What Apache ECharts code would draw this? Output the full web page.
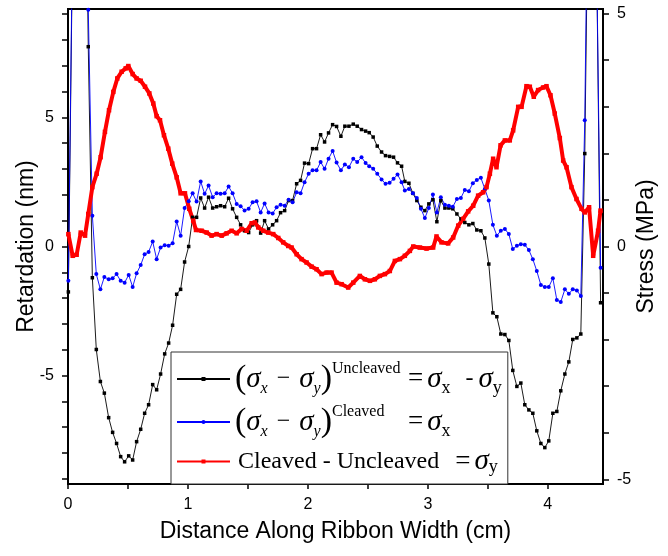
<!DOCTYPE html>
<html>
<head>
<meta charset="utf-8">
<script src="https://cdn.jsdelivr.net/npm/echarts@6/dist/echarts.min.js"></script>
<style>
  html, body { margin: 0; padding: 0; background: #fff; }
  #main { width: 668px; height: 556px; }
</style>
</head>
<body>
<div id="main"></div>
<script>
// x positions (cm) shared by the uncleaved and cleaved scans
var distance = [
    0.003, 0.036, 0.070, 0.103, 0.136, 0.169, 0.203, 0.236, 0.270, 0.303,
    0.339, 0.372, 0.405, 0.439, 0.472, 0.506, 0.539, 0.572, 0.606, 0.639,
    0.672, 0.706, 0.739, 0.772, 0.806, 0.839, 0.872, 0.906, 0.939, 0.972,
    1.006, 1.039, 1.072, 1.106, 1.139, 1.172, 1.206, 1.239, 1.272, 1.306,
    1.339, 1.372, 1.406, 1.439, 1.472, 1.506, 1.539, 1.572, 1.606, 1.639,
    1.672, 1.706, 1.739, 1.772, 1.806, 1.839, 1.872, 1.906, 1.939, 1.972,
    2.006, 2.039, 2.072, 2.106, 2.139, 2.172, 2.206, 2.239, 2.275, 2.308,
    2.342, 2.378, 2.411, 2.447, 2.481, 2.511, 2.544, 2.578, 2.614, 2.647,
    2.681, 2.714, 2.747, 2.781, 2.808, 2.842, 2.875, 2.908, 2.942, 2.975,
    3.008, 3.042, 3.075, 3.108, 3.142, 3.175, 3.208, 3.242, 3.275, 3.308,
    3.342, 3.375, 3.408, 3.442, 3.475, 3.508, 3.542, 3.575, 3.608, 3.642,
    3.675, 3.708, 3.742, 3.775, 3.808, 3.842, 3.875, 3.908, 3.942, 3.975,
    4.008, 4.042, 4.075, 4.108, 4.142, 4.175, 4.208, 4.242, 4.275, 4.308,
    4.342, 4.375, 4.405, 4.440
];

// retardation (nm), uncleaved ribbon
var uncleaved = [
    -1.76, 11, 18, 22, 20, 7.74, -1.21, -3.99, -5.23, -5.68,
    -6.63, -7.20, -7.63, -8.14, -8.34, -8.11, -8.27, -7.56, -7.08, -6.46,
    -6.13, -5.35, -5.55, -4.94, -4.16, -3.74, -3.05, -1.85, -1.66, -0.60,
    0.00, 1.13, 1.13, 1.88, 1.49, 1.91, 1.49, 1.54, 1.58, 1.54,
    1.87, 1.46, 1.13, 0.84, 0.61, 0.54, 0.84, 1.00, 0.52, 1.00,
    0.68, 0.84, 1.00, 1.31, 1.39, 1.78, 1.78, 2.43, 2.56, 3.23,
    3.21, 3.79, 3.79, 4.33, 4.05, 4.40, 4.72, 4.65, 4.27, 4.66,
    4.66, 4.74, 4.66, 4.53, 4.47, 4.41, 4.24, 3.89, 3.66, 3.52,
    3.49, 3.46, 3.24, 3.11, 2.52, 2.45, 2.06, 1.78, 1.52, 1.39,
    1.65, 1.81, 0.96, 1.78, 1.49, 1.49, 1.46, 1.26, 1.07, 0.93,
    0.84, 0.89, 0.64, 0.61, 0.33, -0.68, -2.57, -2.72, -3.39, -3.41,
    -3.64, -4.80, -5.42, -5.29, -6.13, -6.33, -6.46, -7.14, -7.63, -7.79,
    -7.53, -6.46, -6.39, -5.59, -4.94, -4.47, -3.60, -3.54, -3.39, 3.60,
    16, 22, 12, -2.18
];

// retardation (nm), cleaved ribbon
var cleaved = [
    -1.33, 11.5, 18, 22, 22, 9.17, 1.19, -1.07, -1.66, -1.18,
    -1.27, -1.23, -1.07, -1.33, -1.40, -1.10, -1.57, -1.04, -0.72, -0.30,
    -0.21, 0.19, -0.49, -0.04, 0.05, 0.03, 0.13, 0.97, 0.42, 1.49,
    1.75, 2.06, 1.74, 2.52, 2.04, 2.36, 1.91, 2.06, 2.04, 2.06,
    2.32, 2.06, 1.65, 1.56, 1.39, 1.46, 1.71, 1.75, 1.32, 1.67,
    1.32, 1.28, 1.52, 1.62, 1.58, 1.81, 1.71, 2.10, 2.06, 2.49,
    2.82, 2.95, 2.95, 3.27, 3.01, 3.40, 3.70, 3.25, 2.95, 3.18,
    3.07, 3.40, 3.27, 3.46, 3.23, 3.11, 3.01, 2.82, 2.60, 2.43,
    2.47, 2.62, 2.79, 2.49, 2.17, 2.23, 2.06, 1.88, 1.46, 1.10,
    1.49, 2.01, 1.32, 1.91, 1.62, 1.58, 1.54, 1.84, 1.88, 2.19,
    2.14, 2.45, 2.58, 2.66, 2.23, 1.78, 0.84, 0.42, 0.61, 0.68,
    0.48, -0.10, 0.03, 0.09, 0.07, -0.14, -0.49, -0.95, -1.49, -1.57,
    -1.57, -1.23, -2.07, -2.15, -1.66, -1.83, -1.66, -1.70, -1.92, 4.89,
    18, 22, 12, -0.82
];

// cleaved - uncleaved, read against the left scale
var diffDistance = [
    0.003, 0.039, 0.072, 0.106, 0.142, 0.169, 0.203, 0.239, 0.272, 0.308,
    0.342, 0.378, 0.411, 0.447, 0.481, 0.503, 0.539, 0.572, 0.606, 0.642,
    0.678, 0.711, 0.739, 0.767, 0.800, 0.836, 0.869, 0.906, 0.939, 0.975,
    1.011, 1.044, 1.067, 1.114, 1.156, 1.197, 1.239, 1.281, 1.322, 1.364,
    1.406, 1.447, 1.489, 1.531, 1.558, 1.586, 1.628, 1.669, 1.711, 1.753,
    1.794, 1.836, 1.864, 1.906, 1.947, 1.989, 2.031, 2.072, 2.114, 2.156,
    2.197, 2.239, 2.281, 2.336, 2.378, 2.433, 2.475, 2.517, 2.558, 2.600,
    2.642, 2.683, 2.725, 2.767, 2.808, 2.850, 2.878, 2.933, 2.989, 3.044,
    3.072, 3.114, 3.169, 3.211, 3.253, 3.294, 3.336, 3.378, 3.419, 3.461,
    3.489, 3.517, 3.544, 3.572, 3.606, 3.642, 3.683, 3.711, 3.753, 3.781,
    3.822, 3.850, 3.883, 3.919, 3.961, 3.989, 4.022, 4.058, 4.100, 4.128,
    4.156, 4.197, 4.239, 4.281, 4.308, 4.344, 4.378, 4.419, 4.439
];
var difference = [
    0.48, -0.36, -0.32, 0.54, 0.42, 1.26, 2.30, 2.82, 3.46, 4.44,
    5.28, 5.99, 6.51, 6.77, 6.90, 6.99, 6.68, 6.51, 6.42, 6.19,
    5.93, 5.54, 5.05, 4.89, 4.31, 3.79, 3.21, 2.68, 2.06, 2.06,
    1.46, 1.00, 0.64, 0.61, 0.54, 0.42, 0.48, 0.42, 0.51, 0.61,
    0.51, 0.68, 0.61, 0.90, 0.93, 0.74, 0.61, 0.54, 0.48, 0.33,
    0.16, 0.02, -0.04, -0.30, -0.49, -0.62, -0.78, -0.88, -1.07, -1.01,
    -1.01, -1.40, -1.46, -1.59, -1.40, -1.14, -1.27, -1.33, -1.27, -1.14,
    -1.07, -0.95, -0.56, -0.49, -0.36, -0.17, 0.00, -0.04, -0.08, -0.04,
    0.39, 0.16, 0.12, 0.35, 0.81, 1.07, 1.36, 1.58, 1.97, 2.10,
    2.30, 2.82, 3.40, 3.07, 3.92, 4.11, 4.11, 4.50, 5.41, 5.41,
    6.21, 6.19, 5.80, 6.06, 6.16, 6.21, 5.86, 5.15, 4.20, 3.33,
    3.07, 2.30, 1.84, 1.46, 1.32, 1.52, -0.36, 0.61, 1.39
];

// ticks and labels
var xTicks = [0, 0.5, 1, 1.5, 2, 2.5, 3, 3.5, 4];
var xLabels = [0, 1, 2, 3, 4];
var leftTicks = [-9, -8, -7, -6, -5, -4, -3, -2, -1, 0, 1, 2, 3, 4, 5, 6, 7, 8, 9];
var leftLabels = [-5, 0, 5];
var rightTicks = [-5, -4, -3, -2, -1, 0, 1, 2, 3, 4, 5];
var rightLabels = [-5, 0, 5];

function pairs(xs, ys) {
    var out = [];
    for (var i = 0; i < xs.length; i++) out.push([xs[i], ys[i]]);
    return out;
}

var sans = '"Liberation Sans", Arial, sans-serif';
var serif = '"Liberation Serif", "Times New Roman", serif';

var legendText = {
    'Uncleaved': '{p|(}{s|σ}{xi|x}{m|−}{s|σ}{xi|y}{p|)}{sup|Uncleaved}{eq|=}{s|σ}{xu|x}{t|-}{s|σ}{xu|y}',
    'Cleaved': '{p|(}{s|σ}{xi|x}{m|−}{s|σ}{xi|y}{p|)}{sup|Cleaved}{eq|=}{s|σ}{xu|x}',
    'Difference': '{c|Cleaved - Uncleaved}{eq2|=}{s|σ}{xu|y}'
};

var myChart = echarts.init(document.getElementById('main'));

var option = {
    animation: false,
    backgroundColor: '#fff',
    grid: {
        left: 68,
        right: 65,
        top: 9,
        bottom: 72,
        outerBoundsMode: 'none',
        show: true,
        borderColor: '#000',
        borderWidth: 2
    },
    legend: {
        orient: 'vertical',
        left: 171,
        top: 352,
        padding: [9, 6, 8, 5],
        itemGap: 7,
        itemWidth: 53,
        itemHeight: 5,
        borderColor: '#333',
        borderWidth: 1,
        backgroundColor: '#fff',
        data: ['Uncleaved', 'Cleaved', 'Difference'],
        formatter: function (name) { return legendText[name]; },
        textStyle: {
            color: '#000',
            rich: {
                p: { fontFamily: serif, fontSize: 34, lineHeight: 36 },
                s: { fontFamily: serif, fontSize: 29, fontStyle: 'italic' },
                xi: { fontFamily: serif, fontSize: 16, fontStyle: 'italic', verticalAlign: 'bottom', lineHeight: 18 },
                m: { fontFamily: serif, fontSize: 24, padding: [0, 9, 0, 9] },
                sup: { fontFamily: serif, fontSize: 16, verticalAlign: 'top', lineHeight: 16, width: 74 },
                eq: { fontFamily: serif, fontSize: 27, padding: [0, 4, 0, 2] },
                eq2: { fontFamily: serif, fontSize: 27, padding: [0, 4, 0, 16] },
                xu: { fontFamily: serif, fontSize: 18, verticalAlign: 'bottom', lineHeight: 18 },
                t: { fontFamily: serif, fontSize: 24, padding: [0, 5, 0, 15] },
                c: { fontFamily: serif, fontSize: 24, padding: [0, 0, 0, 3] }
            }
        }
    },
    xAxis: {
        type: 'value',
        min: 0,
        max: 4.46,
        name: 'Distance Along Ribbon Width (cm)',
        nameLocation: 'middle',
        nameGap: 36,
        nameTextStyle: { fontFamily: sans, fontSize: 23, color: '#000' },
        axisLine: { onZero: false, lineStyle: { color: '#000', width: 2 } },
        axisTick: { customValues: xTicks, length: 5, lineStyle: { color: '#000', width: 1.5 } },
        axisLabel: { customValues: xLabels, margin: 13, fontFamily: sans, fontSize: 16, color: '#000' },
        splitLine: { show: false }
    },
    yAxis: [
        {
            type: 'value',
            min: -9.2,
            max: 9.2,
            name: 'Retardation (nm)',
            nameLocation: 'middle',
            nameRotate: 90,
            nameGap: 30,
            nameMoveOverlap: false,
            nameTextStyle: { fontFamily: sans, fontSize: 23, color: '#000' },
            axisLine: { show: true, onZero: false, lineStyle: { color: '#000', width: 2 } },
            axisTick: { customValues: leftTicks, length: 6, lineStyle: { color: '#000', width: 1.5 } },
            axisLabel: { customValues: leftLabels, margin: 14, fontFamily: sans, fontSize: 16, color: '#000' },
            splitLine: { show: false }
        },
        {
            type: 'value',
            position: 'right',
            min: -5.1,
            max: 5.1,
            name: 'Stress (MPa)',
            nameLocation: 'middle',
            nameRotate: 90,
            nameGap: 32,
            nameMoveOverlap: false,
            nameTextStyle: { fontFamily: sans, fontSize: 23, color: '#000' },
            axisLine: { show: true, onZero: false, lineStyle: { color: '#000', width: 2 } },
            axisTick: { customValues: rightTicks, length: 6, lineStyle: { color: '#000', width: 1.5 } },
            axisLabel: { customValues: rightLabels, margin: 14, fontFamily: sans, fontSize: 16, color: '#000' },
            splitLine: { show: false }
        }
    ],
    series: [
        {
            name: 'Uncleaved',
            type: 'line',
            data: pairs(distance, uncleaved),
            symbol: 'rect',
            symbolSize: 3.5,
            itemStyle: { color: '#000' },
            lineStyle: { color: '#000', width: 0.9 }
        },
        {
            name: 'Cleaved',
            type: 'line',
            data: pairs(distance, cleaved),
            symbol: 'circle',
            symbolSize: 4,
            itemStyle: { color: '#0000ff' },
            lineStyle: { color: '#0000ff', width: 0.9 }
        },
        {
            name: 'Difference',
            type: 'line',
            data: pairs(diffDistance, difference),
            symbol: 'rect',
            symbolSize: 4.5,
            itemStyle: { color: '#ff0000' },
            lineStyle: { color: '#ff0000', width: 4 }
        }
    ]
};

myChart.setOption(option);
</script>
</body>
</html>
